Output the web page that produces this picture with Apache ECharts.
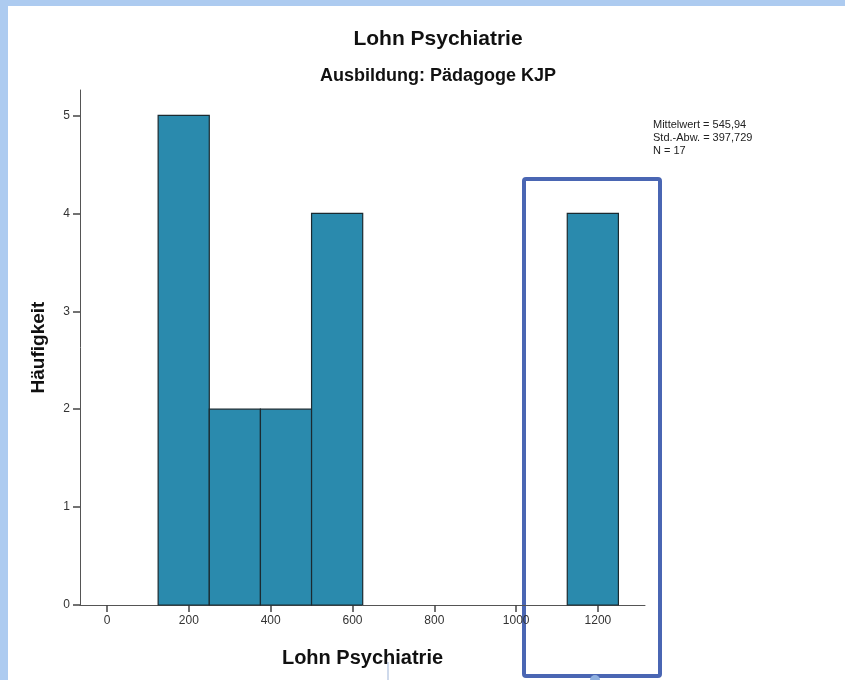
<!DOCTYPE html>
<html><head><meta charset="utf-8">
<script src="https://cdn.jsdelivr.net/npm/echarts@6/dist/echarts.min.js"></script>
<style>html,body{margin:0;padding:0;background:#fff}#c{width:845px;height:680px}</style>
</head><body><div id="c"></div>
<script>
const binStarts = [125, 250, 375, 500, 1125];
const binEnds = [250, 375, 500, 625, 1250];
const counts = [5, 2, 2, 4, 4];
const xTicks = [0, 200, 400, 600, 800, 1000, 1200];
const yTicks = [0, 1, 2, 3, 4, 5];
const statsLines = ['Mittelwert = 545,94', 'Std.-Abw. = 397,729', 'N = 17'];

const data = binStarts.map((s, i) => [s, binEnds[i], counts[i]]);
const chart = echarts.init(document.getElementById('c'), null, {renderer: 'canvas'});
const FONT = '"Liberation Sans", Arial, sans-serif';
chart.setOption({
  animation: false,
  backgroundColor: '#fff',
  title: [
    {text: 'Lohn Psychiatrie', left: 433, top: 24, textAlign: 'center',
     textStyle: {fontFamily: FONT, fontSize: 21, fontWeight: 'bold', color: '#111'}},
    {text: 'Ausbildung: Pädagoge KJP', left: 433, top: 62, textAlign: 'center',
     textStyle: {fontFamily: FONT, fontSize: 18, fontWeight: 'bold', color: '#111'}}
  ],
  grid: {left: 80, right: 200, top: 90, bottom: 75},
  xAxis: {
    type: 'value', min: -66, max: 1315,
    name: 'Lohn Psychiatrie', nameLocation: 'middle', nameGap: 43,
    nameTextStyle: {fontFamily: FONT, fontSize: 20, fontWeight: 'bold', color: '#111'},
    axisLine: {show: true, onZero: false, lineStyle: {color: '#555', width: 1}},
    axisTick: {show: true, length: 7, customValues: xTicks, lineStyle: {color: '#444', width: 1.5}},
    axisLabel: {customValues: xTicks, formatter: v => String(v), fontFamily: FONT, fontSize: 12, color: '#333', margin: 10},
    splitLine: {show: false}
  },
  yAxis: {
    type: 'value', min: 0, max: 5.26,
    name: 'Häufigkeit', nameLocation: 'middle', nameGap: 32, nameRotate: 90,
    nameTextStyle: {fontFamily: FONT, fontSize: 19, fontWeight: 'bold', color: '#111'},
    axisLine: {show: true, onZero: false, lineStyle: {color: '#555', width: 1}},
    axisTick: {show: true, length: 7, customValues: yTicks, lineStyle: {color: '#444', width: 1.5}},
    axisLabel: {customValues: yTicks, formatter: v => String(v), fontFamily: FONT, fontSize: 12, color: '#333', margin: 10},
    splitLine: {show: false}
  },
  series: [{
    type: 'custom',
    data: data,
    encode: {x: [0, 1], y: 2},
    renderItem: function (params, api) {
      const p0 = api.coord([api.value(0), api.value(2)]);
      const p1 = api.coord([api.value(1), 0]);
      return {
        type: 'rect',
        shape: {x: p0[0], y: p0[1], width: p1[0] - p0[0], height: p1[1] - p0[1]},
        style: {fill: '#2a8aad', stroke: '#1b2a30', lineWidth: 1.2}
      };
    }
  }],
  graphic: [
    {type: 'rect', shape: {x: 0, y: 0, width: 845, height: 6}, style: {fill: '#adcbf0'}, silent: true},
    {type: 'rect', shape: {x: 0, y: 0, width: 8, height: 680}, style: {fill: '#adcbf0'}, silent: true},
    {type: 'text', left: 653, top: 118, style: {text: statsLines.join('\n'), font: '11px ' + FONT, fill: '#222', lineHeight: 13}},
    {type: 'rect', shape: {x: 524, y: 179, width: 136, height: 497, r: 2}, style: {fill: 'none', stroke: '#4a66b3', lineWidth: 4}},
    {type: 'circle', shape: {cx: 595, cy: 680, r: 5}, style: {fill: '#8fb0e0'}},
    {type: 'line', shape: {x1: 388, y1: 662, x2: 388, y2: 680}, style: {stroke: '#9fb5d8', lineWidth: 1}}
  ]
});
</script></body></html>
